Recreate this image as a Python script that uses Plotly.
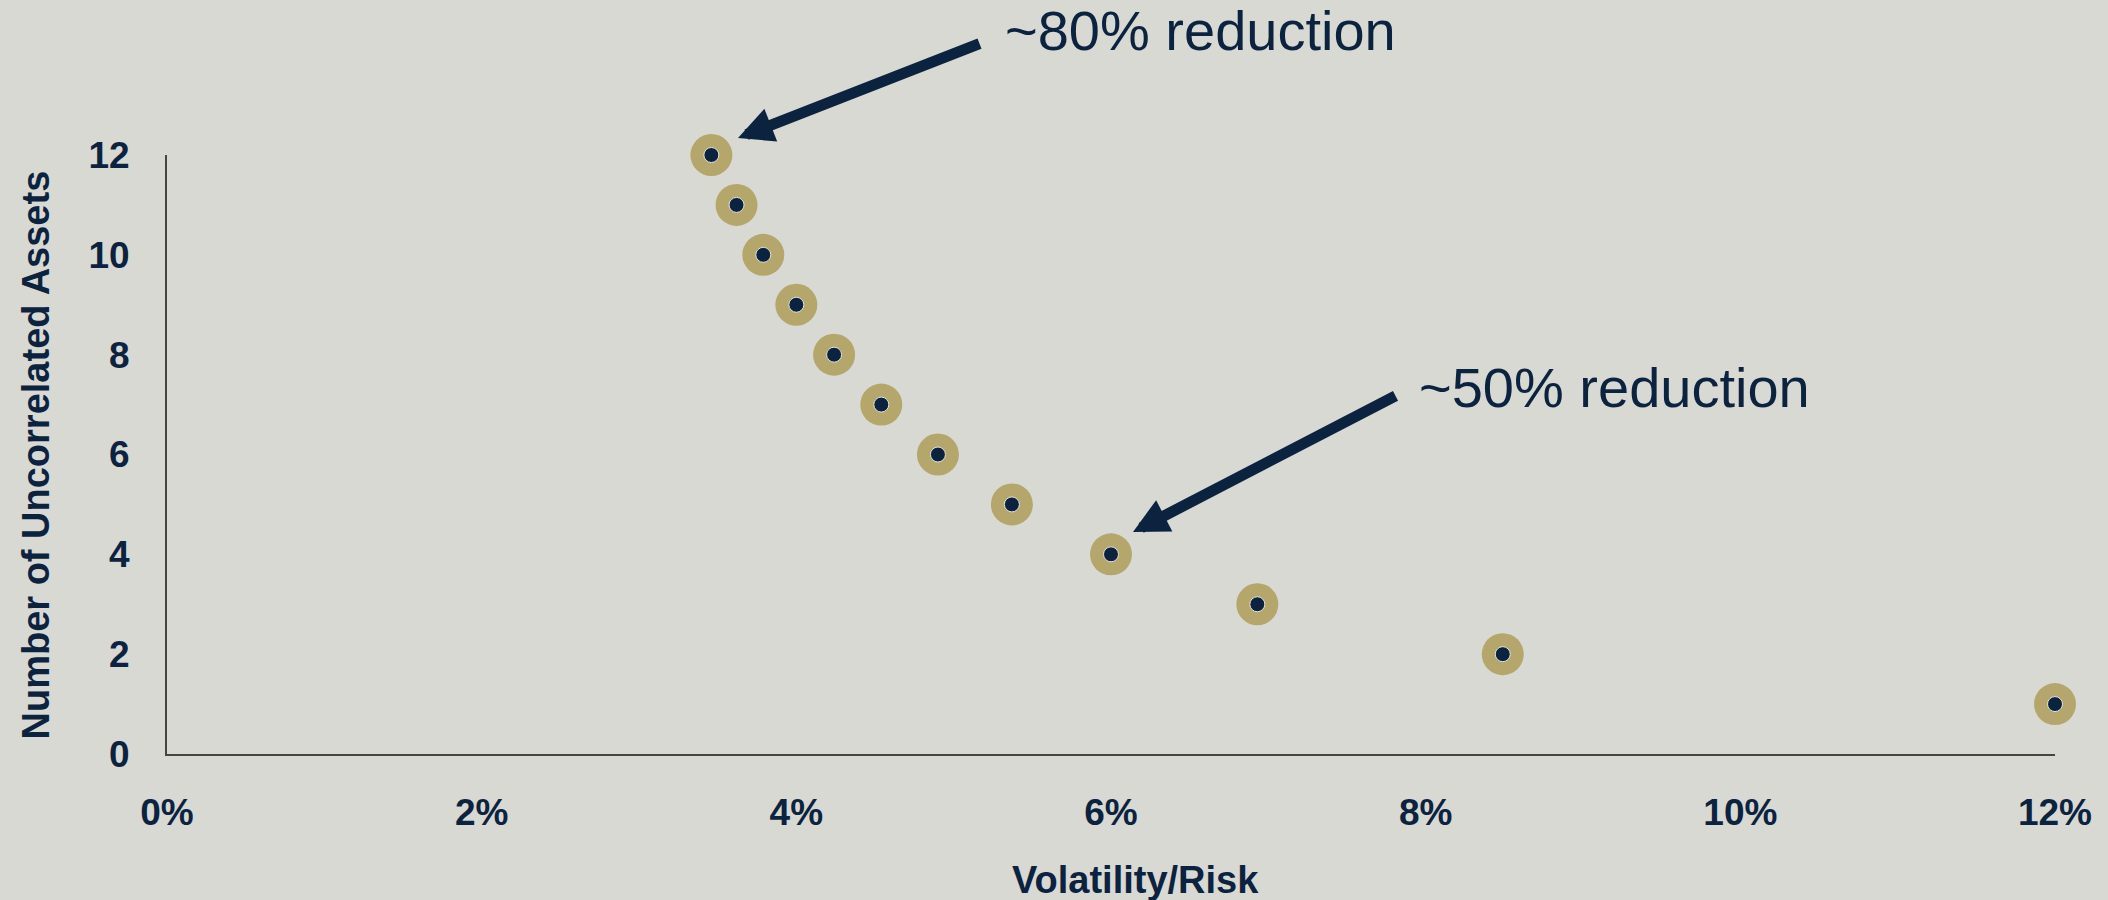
import plotly.graph_objects as go

# Data
assets = [1, 2, 3, 4, 5, 6, 7, 8, 9, 10, 11, 12]
volatility = [12.0, 8.49, 6.93, 6.0, 5.37, 4.9, 4.54, 4.24, 4.0, 3.79, 3.62, 3.46]
x_ticks = [0, 2, 4, 6, 8, 10, 12]
x_tick_labels = ["0%", "2%", "4%", "6%", "8%", "10%", "12%"]
y_ticks = [0, 2, 4, 6, 8, 10, 12]

BG = "#d9d9d4"
GOLD = "#b5a66c"
NAVY = "#0c2340"
AXIS = "#454542"
FONT = "Liberation Sans, Arial, Helvetica, sans-serif"

L, R, T, B = 167, 53, 155, 146
W, H = 2108, 900
PW, PH = W - L - R, H - T - B


def px_to_paper(px, py):
    return (px - L) / PW, (H - B - py) / PH


fig = go.Figure()
fig.add_trace(go.Scatter(
    x=volatility, y=assets, mode="markers",
    marker=dict(size=42, color=GOLD, line=dict(width=0)),
    cliponaxis=False, hoverinfo="skip", showlegend=False))
fig.add_trace(go.Scatter(
    x=volatility, y=assets, mode="markers",
    marker=dict(size=15, color=NAVY, line=dict(width=1, color="#e4e4df")),
    cliponaxis=False, showlegend=False))

fig.update_layout(
    width=W, height=H,
    paper_bgcolor=BG, plot_bgcolor=BG,
    margin=dict(l=L, r=R, t=T, b=B),
    font=dict(family=FONT, color=NAVY),
    xaxis=dict(range=[0, 12], tickvals=x_ticks, ticktext=x_tick_labels,
               showgrid=False, zeroline=False, showline=True,
               linecolor=AXIS, linewidth=2, ticks="",
               ticklabelstandoff=25,
               tickfont=dict(size=37, family=FONT, color=NAVY, weight="bold")),
    yaxis=dict(range=[0, 12], tickvals=y_ticks,
               showgrid=False, zeroline=False, showline=True,
               linecolor=AXIS, linewidth=2, ticks="",
               ticklabelstandoff=28,
               tickfont=dict(size=37, family=FONT, color=NAVY, weight="bold")),
)

a1x, a1y = px_to_paper(738, 138)
a2x, a2y = px_to_paper(1133, 532)
t1x, t1y = px_to_paper(1003, 31)
t2x, t2y = px_to_paper(1417, 387)

annotations = [
    # axis titles
    dict(text="<b>Volatility/Risk</b>", xref="paper", yref="paper",
         x=0.513, y=-0.21, xanchor="center", yanchor="middle",
         showarrow=False, font=dict(size=38, color=NAVY, family=FONT)),
    dict(text="<b>Number of Uncorrelated Assets</b>", xref="paper", yref="paper",
         x=-0.0694, y=0.5, xanchor="center", yanchor="middle", textangle=-90,
         showarrow=False, font=dict(size=38, color=NAVY, family=FONT)),
    # arrows
    dict(text="", xref="paper", yref="paper", x=a1x, y=a1y, ax=243, ay=-95,
         showarrow=True, arrowhead=2, arrowsize=0.64, arrowwidth=11,
         arrowcolor=NAVY, standoff=0),
    dict(text="", xref="paper", yref="paper", x=a2x, y=a2y, ax=264, ay=-137,
         showarrow=True, arrowhead=2, arrowsize=0.64, arrowwidth=11,
         arrowcolor=NAVY, standoff=0),
    # labels
    dict(text="~80% reduction", xref="paper", yref="paper",
         x=t1x, y=t1y, xanchor="left", yanchor="middle",
         showarrow=False, font=dict(size=56, color=NAVY, family=FONT)),
    dict(text="~50% reduction", xref="paper", yref="paper",
         x=t2x, y=t2y, xanchor="left", yanchor="middle",
         showarrow=False, font=dict(size=56, color=NAVY, family=FONT)),
]
fig.update_layout(annotations=annotations)

fig.write_html(
    "out.html",
    config={"displayModeBar": False},
    post_script="document.body.style.margin='0';document.body.style.overflow='hidden';"
                "document.body.style.background='" + BG + "';",
)
